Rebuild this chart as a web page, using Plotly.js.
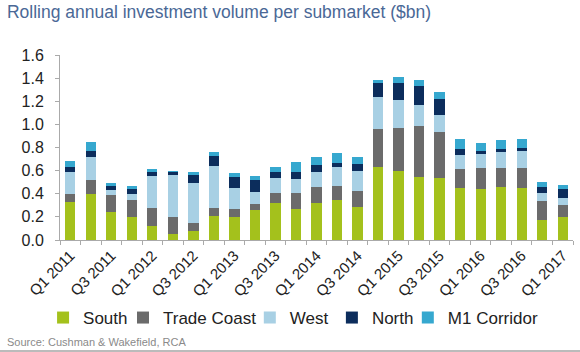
<!DOCTYPE html>
<html><head><meta charset="utf-8">
<script src="https://cdn.plot.ly/plotly-3.0.1.min.js"></script>
<style>html,body{margin:0;padding:0;background:#fff}#c{width:580px;height:352px}</style>
</head><body><div id="c"></div>
<script>
const quarters = ["Q1 2011","Q2 2011","Q3 2011","Q4 2011","Q1 2012","Q2 2012","Q3 2012","Q4 2012",
"Q1 2013","Q2 2013","Q3 2013","Q4 2013","Q1 2014","Q2 2014","Q3 2014","Q4 2014",
"Q1 2015","Q2 2015","Q3 2015","Q4 2015","Q1 2016","Q2 2016","Q3 2016","Q4 2016","Q1 2017"];
const south      = [0.33,0.40,0.245,0.196,0.124,0.052,0.08,0.21,0.20,0.257,0.32,0.265,0.32,0.343,0.285,0.634,0.60,0.548,0.54,0.45,0.441,0.455,0.45,0.17,0.20];
const tradeCoast = [0.07,0.12,0.145,0.154,0.15,0.144,0.064,0.064,0.065,0.051,0.09,0.145,0.14,0.127,0.139,0.329,0.37,0.442,0.397,0.161,0.185,0.171,0.17,0.167,0.10];
const west       = [0.185,0.20,0.04,0.05,0.279,0.366,0.352,0.369,0.188,0.11,0.129,0.115,0.125,0.16,0.173,0.277,0.24,0.177,0.147,0.121,0.121,0.135,0.147,0.067,0.066];
const north      = [0.045,0.05,0.035,0.04,0.037,0.028,0.064,0.087,0.089,0.101,0.051,0.063,0.061,0.04,0.063,0.115,0.145,0.163,0.136,0.058,0.026,0.029,0.033,0.056,0.072];
const m1Corridor = [0.056,0.08,0.03,0.03,0.024,0.01,0.028,0.028,0.035,0.031,0.04,0.087,0.074,0.08,0.06,0.025,0.052,0.05,0.063,0.086,0.069,0.078,0.073,0.044,0.042];
const tickText = quarters.map((q,i)=> i%2===0 ? q : "");

const names = ["South","Trade Coast","West","North","M1 Corridor"];
const series = [south, tradeCoast, west, north, m1Corridor];
const colors = ["#a4c11c","#6b6b6b","#a8d0e4","#0c2d5c","#36a8cf"];
const legendIds = ["legend","legend2","legend3","legend4","legend5"];
const legendX = [-0.033, 0.1228, 0.370, 0.530, 0.678];

const data = series.map((s,i)=>({
  type:"bar", name:names[i], x:quarters, y:s, legend:legendIds[i],
  marker:{color:colors[i], line:{width:0}}
}));

const layout = {
  width:580, height:352,
  margin:{l:60, r:7, t:55, b:112},
  paper_bgcolor:"#fff", plot_bgcolor:"#fff",
  barmode:"stack", bargap:0.5,
  font:{family:"Arial, Liberation Sans, sans-serif", color:"#222"},
  title:{text:"Rolling annual investment volume per submarket ($bn)", x:0.012, xanchor:"left", y:0.966, yanchor:"middle",
         font:{size:17.5, color:"#4a6896"}},
  xaxis:{type:"category", tickvals:quarters, ticktext:tickText, tickangle:-45, tickson:"boundaries",
         ticks:"outside", ticklen:4, tickcolor:"#aaa", showline:true, linecolor:"#aaa", linewidth:1,
         tickfont:{size:15, color:"#222"}, showgrid:false},
  yaxis:{range:[0,1.6], dtick:0.2, tickformat:".1f", ticks:"outside", ticklen:4, tickcolor:"#aaa",
         showline:true, linecolor:"#aaa", linewidth:1, showgrid:false, zeroline:false,
         ticklabelstandoff:8, tickfont:{size:16, color:"#222"}},
  showlegend:true,
  annotations:[{text:"Source: Cushman & Wakefield, RCA", xref:"paper", yref:"paper", x:-0.107, xanchor:"left",
     y:-0.551, yanchor:"middle", showarrow:false, font:{size:11, color:"#8a8a8a"}}],
  shapes:[{type:"line", xref:"paper", yref:"paper", x0:-0.13, x1:1.02, y0:-0.6, y1:-0.6, line:{color:"#bbb", width:2}}]
};
legendIds.forEach((id,i)=>{
  layout[id] = {orientation:"h", x:legendX[i], xanchor:"left", y:-0.4216, yanchor:"middle",
    font:{size:17, color:"#222"}, itemwidth:30, bgcolor:"rgba(0,0,0,0)"};
});
Plotly.newPlot("c", data, layout, {displayModeBar:false, staticPlot:true});
</script></body></html>
